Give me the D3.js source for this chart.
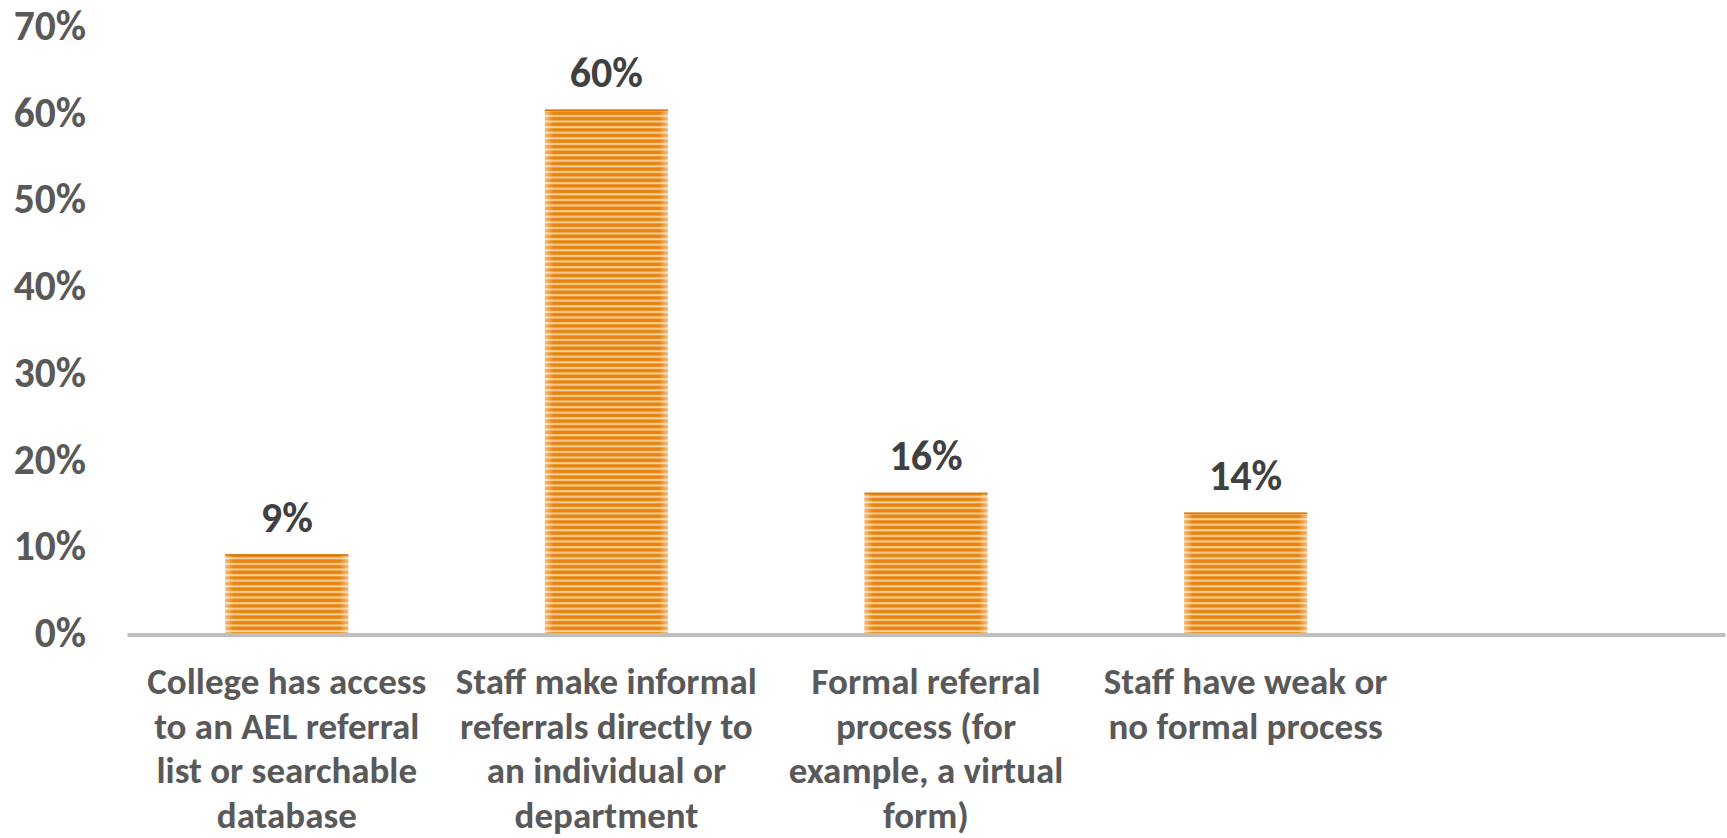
<!DOCTYPE html>
<html>
<head>
<meta charset="utf-8">
<script src="https://cdn.jsdelivr.net/npm/d3@7"></script>
<style>
  html, body { margin: 0; padding: 0; background: #fff; }
  svg { display: block; }
</style>
</head>
<body>
<svg id="chart" width="1727" height="838"></svg>
<script>
const categories = [
  "College has access\nto an AEL referral\nlist or searchable\ndatabase",
  "Staff make informal\nreferrals directly to\nan individual or\ndepartment",
  "Formal referral\nprocess (for\nexample, a virtual\nform)",
  "Staff have weak or\nno formal process",
  ""
];
const values = [9.2, 60.5, 16.3, 14.0, null];
const valueLabels = ["9%", "60%", "16%", "14%", ""];
const yTicks = [0, 10, 20, 30, 40, 50, 60, 70];

const FONT = "Carlito, Calibri, Lato, 'Open Sans', sans-serif";
const svg = d3.select("#chart");
const W = 1727, H = 838;
const margin = { left: 127, right: 2, top: 27, bottom: 204 };
const y0 = 634;

const x = d3.scaleBand()
  .domain(d3.range(categories.length))
  .range([margin.left, W - margin.right])
  .paddingInner(0.615)
  .paddingOuter(0.3075);

const y = d3.scaleLinear().domain([0, 70]).range([y0, margin.top]);

const defs = svg.append("defs");
const pat = defs.append("pattern")
  .attr("id", "stripes")
  .attr("patternUnits", "userSpaceOnUse")
  .attr("width", 20).attr("height", 5.6);
pat.append("rect").attr("width", 20).attr("height", 5.6).attr("fill", "#E7820B");
pat.append("rect").attr("y", 2.6).attr("width", 20).attr("height", 0.6).attr("fill", "#F0AC55");
pat.append("rect").attr("y", 3.2).attr("width", 20).attr("height", 1.4).attr("fill", "#FBDFB5");
pat.append("rect").attr("y", 4.6).attr("width", 20).attr("height", 0.6).attr("fill", "#F0AC55");

const edge = defs.append("linearGradient").attr("id", "edge")
  .attr("x1", "0").attr("x2", "1").attr("y1", "0").attr("y2", "0");
edge.append("stop").attr("offset", "0").attr("stop-color", "#fff").attr("stop-opacity", 0.45);
edge.append("stop").attr("offset", "0.07").attr("stop-color", "#fff").attr("stop-opacity", 0);
edge.append("stop").attr("offset", "0.93").attr("stop-color", "#fff").attr("stop-opacity", 0);
edge.append("stop").attr("offset", "1").attr("stop-color", "#fff").attr("stop-opacity", 0.45);

// Y axis tick labels (no axis line, no gridlines)
const yAxis = d3.axisLeft(y).tickValues(yTicks).tickSize(0).tickPadding(0)
  .tickFormat(d => d + "%");
const gy = svg.append("g").attr("transform", `translate(86,0)`).call(yAxis);
gy.select(".domain").remove();
gy.selectAll("text")
  .attr("font-family", FONT).attr("font-weight", "bold")
  .attr("font-size", 41.5).attr("fill", "#595959")
  .attr("dy", "0.3em").attr("dx", 0);

// Bars
const data = categories.map((c, i) => ({ i, v: values[i], label: valueLabels[i] })).filter(d => d.v != null);
const bars = svg.append("g");
bars.selectAll("rect.bar").data(data).join("rect")
  .attr("class", "bar")
  .attr("x", d => x(d.i)).attr("width", x.bandwidth())
  .attr("y", d => y(d.v)).attr("height", d => y0 - y(d.v))
  .attr("fill", "url(#stripes)");
bars.selectAll("rect.edge").data(data).join("rect")
  .attr("class", "edge")
  .attr("x", d => x(d.i)).attr("width", x.bandwidth())
  .attr("y", d => y(d.v)).attr("height", d => y0 - y(d.v))
  .attr("fill", "url(#edge)");
bars.selectAll("line.top").data(data).join("line")
  .attr("class", "top")
  .attr("x1", d => x(d.i)).attr("x2", d => x(d.i) + x.bandwidth())
  .attr("y1", d => y(d.v) + 0.75).attr("y2", d => y(d.v) + 0.75)
  .attr("stroke", "#D9770A").attr("stroke-width", 1.5);

// X axis line
const xAxis = d3.axisBottom(x).tickSize(0).tickFormat("");
const gx = svg.append("g").attr("transform", `translate(0,${y0 + 0.5})`).call(xAxis);
gx.select(".domain").attr("stroke", "#BFBFBF").attr("stroke-width", 4);

// Data labels
svg.append("g").selectAll("text").data(data).join("text")
  .attr("x", d => x(d.i) + x.bandwidth() / 2)
  .attr("y", d => y(d.v) - 37)
  .attr("dy", "0.35em")
  .attr("text-anchor", "middle")
  .attr("font-family", FONT).attr("font-weight", "bold")
  .attr("font-size", 42).attr("fill", "#404040")
  .text(d => d.label);

// Category labels
const cat = svg.append("g").selectAll("text").data(categories.map((c, i) => ({ c, i }))).join("text")
  .attr("text-anchor", "middle")
  .attr("font-family", FONT).attr("font-weight", "bold")
  .attr("font-size", 37).attr("fill", "#595959");
cat.each(function(d) {
  const t = d3.select(this);
  d.c.split("\n").forEach((line, k) => {
    t.append("tspan")
      .attr("x", x(d.i) + x.bandwidth() / 2)
      .attr("y", 694 + k * 44.6)
      .text(line);
  });
});
</script>
</body>
</html>
